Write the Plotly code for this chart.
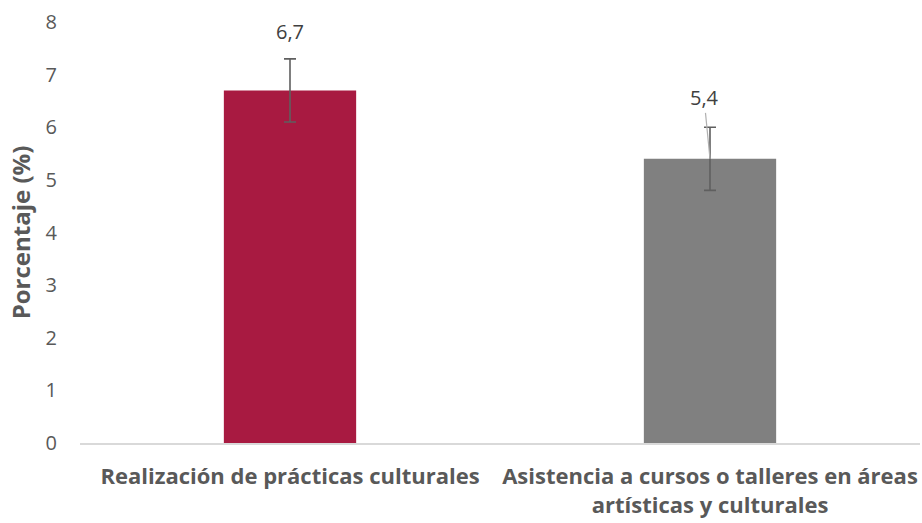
import plotly.graph_objects as go

categories = ["Realización de prácticas culturales",
              "Asistencia a cursos o talleres en áreas<br>artísticas y culturales"]
values = [6.7, 5.4]
errors = [0.6, 0.6]
labels = ["6,7", "5,4"]
colors = ["#A81A41", "#808080"]
y_ticks = [0, 1, 2, 3, 4, 5, 6, 7, 8]

fig = go.Figure()
fig.add_trace(go.Bar(
    x=categories, y=values, marker=dict(color=colors, line=dict(width=0)),
    width=0.315,
    error_y=dict(type="data", array=errors, visible=True, color="#5f5f5f",
                 thickness=1.6, width=6),
    hoverinfo="skip",
))

offsets = [(0, -59, "rgba(0,0,0,0)"), (-6, -61, "#b0b0b0")]
for c, v, t, (ax, ay, ac) in zip(categories, values, labels, offsets):
    fig.add_annotation(x=c, y=v, text=t, showarrow=True, arrowhead=0,
                       arrowwidth=1.2, arrowcolor=ac, ax=ax, ay=ay,
                       font=dict(family="Open Sans", size=20, color="#404040"))

fig.update_layout(
    width=922, height=523,
    margin=dict(l=80, r=2, t=22, b=80, autoexpand=False),
    paper_bgcolor="white", plot_bgcolor="white",
    showlegend=False,
    font=dict(family="Open Sans", color="#595959"),
    xaxis=dict(showline=True, linecolor="#d9d9d9", linewidth=1.5,
               automargin=False,
               ticks="outside", ticklen=13, tickcolor="rgba(0,0,0,0)",
               tickfont=dict(family="Open Sans", size=22, color="#595959",
                             weight="bold"),
               showgrid=False),
    yaxis=dict(range=[0, 8], tickvals=y_ticks, showgrid=False, zeroline=False,
               automargin=False,
               showline=False, ticks="outside", ticklen=18,
               tickcolor="rgba(0,0,0,0)",
               tickfont=dict(family="Open Sans", size=20, color="#595959"),
               title=dict(text="Porcentaje (%)", standoff=8,
                          font=dict(family="Open Sans", size=24,
                                    color="#595959", weight="bold"))),
)

fig.write_html("out.html", config={"displayModeBar": False},
               post_script="document.body.style.margin='0';document.body.style.overflow='hidden';")
